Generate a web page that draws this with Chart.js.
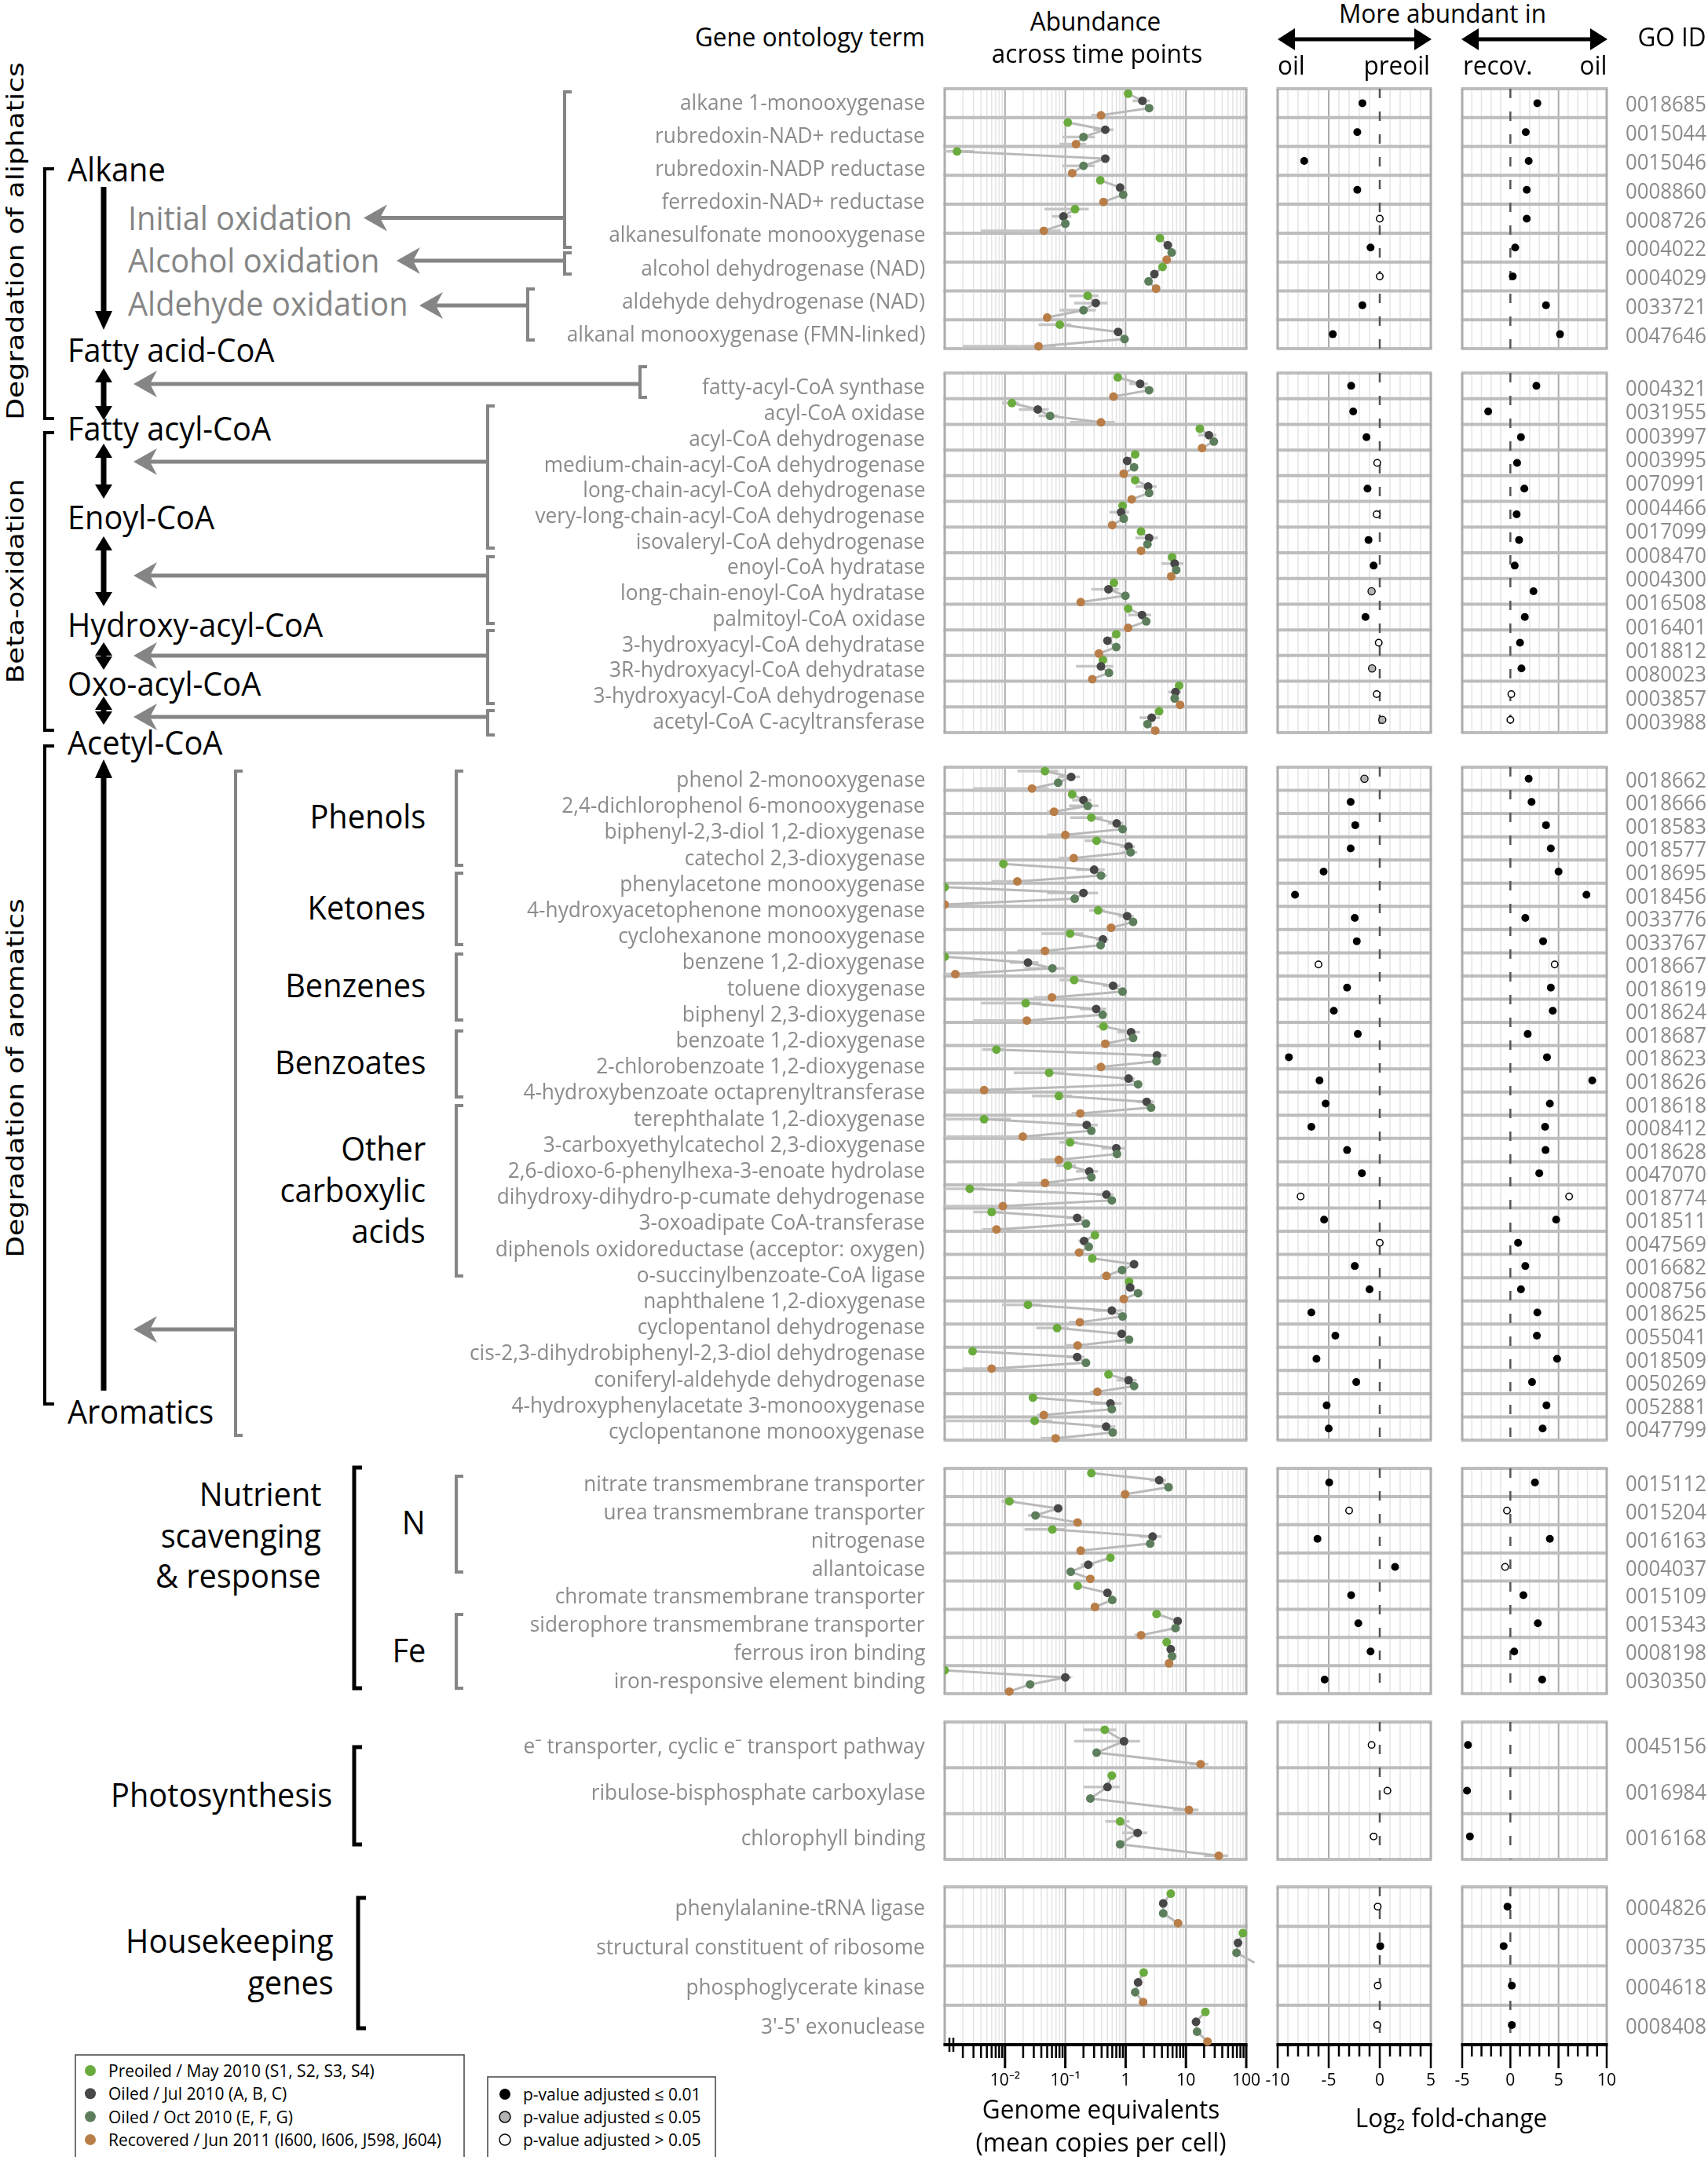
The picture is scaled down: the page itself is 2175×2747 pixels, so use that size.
<!DOCTYPE html>
<html>
<head>
<meta charset="utf-8">
<title>GO term abundance across time points</title>
<script src="https://cdn.jsdelivr.net/npm/chart.js@4.4.1/dist/chart.umd.min.js"></script>
<style>
  html, body { margin: 0; padding: 0; background: #fff; }
  #page { position: relative; width: 2175px; height: 2747px; overflow: hidden; font-family: "Open Sans", sans-serif; }
  #page canvas { position: absolute; }
  #diagram { position: absolute; left: 0; top: 0; }
  .t { position: absolute; white-space: nowrap; line-height: 1; }
  .term { font-size: 28px; color: #8b8b8b; }
  .goid { font-size: 28px; color: #8b8b8b; }
  .head { font-size: 32px; color: #000; }
  .big { font-size: 42px; color: #000; }
  .big.gray { color: #858585; }
  .vert { font-family: "DejaVu Sans", sans-serif; font-size: 31px; color: #000; }
  .leg { font-size: 21px; color: #000; }
  .axt { font-size: 32px; color: #000; }
</style>
</head>
<body>
<div id="page"><svg id="diagram" width="2175" height="2747"></svg></div>
<script>
// ---------- data ----------
const seriesNames = ["Preoiled / May 2010 (S1, S2, S3, S4)", "Oiled / Jul 2010 (A, B, C)", "Oiled / Oct 2010 (E, F, G)", "Recovered / Jun 2011 (I600, I606, J598, J604)"];
const sigNames = ["p-value adjusted \u2264 0.01", "p-value adjusted \u2264 0.05", "p-value adjusted > 0.05"];
const abundTickValues = [0.01, 0.1, 1, 10, 100];
const abundTickLabels = ["10\u207B\u00B2", "10\u207B\u00B9", "1", "10", "100"];

// degradation of aliphatics
const aliphTerms = ["alkane 1-monooxygenase", "rubredoxin-NAD+ reductase", "rubredoxin-NADP reductase", "ferredoxin-NAD+ reductase", "alkanesulfonate monooxygenase", "alcohol dehydrogenase (NAD)", "aldehyde dehydrogenase (NAD)", "alkanal monooxygenase (FMN-linked)"];
const aliphIds = ["0018685", "0015044", "0015046", "0008860", "0008726", "0004022", "0004029", "0033721", "0047646"];
const aliphPreoil = [1.1, 0.11, 0.0016, 0.38, 0.145, 3.7, 4.1, 0.235, 0.081];
const aliphOilJul = [1.9, 0.46, 0.46, 0.81, 0.093, 5.0, 3.0, 0.32, 0.75];
const aliphOilOct = [2.45, 0.2, 0.2, 0.91, 0.1, 5.8, 2.4, 0.2, 0.96];
const aliphRecov = [0.39, 0.15, 0.13, 0.43, 0.044, 4.8, 3.2, 0.05, 0.036];
const aliphSd = [[0, 0.6, 0, 0.12], [0, 0.17, 0.11, 0.07], [0.0015, 0, 0.11, 0.02], [0, 0.12, 0, 0], [0.1, 0.033, 0, 0.04], [0, 0, 0, 0], [0, 0, 0, 0], [0.12, 0.18, 0.12, 0], [0.045, 0, 0.05, 0.034]];
const aliphLfcOil = [-1.7, -2.2, -7.4, -2.2, 0, -0.9, 0, -1.7, -4.6];
const aliphSigOil = [1, 1, 1, 1, 3, 1, 3, 1, 1];
const aliphLfcRecov = [2.8, 1.6, 1.9, 1.7, 1.7, 0.5, 0.25, 3.7, 5.15];
const aliphSigRecov = [1, 1, 1, 1, 1, 1, 1, 1, 1];

// beta-oxidation
const betaTerms = ["fatty-acyl-CoA synthase", "acyl-CoA oxidase", "acyl-CoA dehydrogenase", "medium-chain-acyl-CoA dehydrogenase", "long-chain-acyl-CoA dehydrogenase", "very-long-chain-acyl-CoA dehydrogenase", "isovaleryl-CoA dehydrogenase", "enoyl-CoA hydratase", "long-chain-enoyl-CoA hydratase", "palmitoyl-CoA oxidase", "3-hydroxyacyl-CoA dehydratase", "3R-hydroxyacyl-CoA dehydratase", "3-hydroxyacyl-CoA dehydrogenase", "acetyl-CoA C-acyltransferase"];
const betaIds = ["0004321", "0031955", "0003997", "0003995", "0070991", "0004466", "0017099", "0008470", "0004300", "0016508", "0016401", "0018812", "0080023", "0003857", "0003988"];
const betaPreoil = [0.74, 0.013, 17, 1.44, 1.44, 0.89, 1.8, 5.9, 0.64, 1.1, 0.7, 0.42, 7.7, 3.6];
const betaOilJul = [1.74, 0.035, 24, 1.06, 2.36, 0.84, 2.45, 6.5, 0.52, 1.87, 0.5, 0.39, 6.7, 2.7];
const betaOilOct = [2.45, 0.056, 29, 1.38, 2.45, 0.93, 2.3, 6.9, 0.99, 2.2, 0.7, 0.53, 6.5, 2.3];
const betaRecov = [0.63, 0.39, 18.5, 0.93, 1.26, 0.6, 1.8, 5.7, 0.18, 1.1, 0.36, 0.28, 8.0, 3.1];
const betaSd = [[0, 0.6, 0, 0.1], [0.004, 0.018, 0.02, 0.27], [0, 8, 0, 0], [0, 0.17, 0, 0], [0, 0.9, 0, 0], [0, 0.3, 0, 0], [0, 1.0, 0, 0], [0, 2.6, 0, 0], [0, 0.25, 0, 0], [0, 0.77, 0, 0], [0, 0, 0, 0], [0, 0.24, 0, 0], [0, 1.6, 0, 0], [0, 1.0, 0, 0]];
const betaLfcOil = [-2.8, -2.6, -1.3, -0.25, -1.2, -0.3, -1.1, -0.6, -0.8, -1.4, -0.1, -0.75, -0.3, 0.25];
const betaSigOil = [1, 1, 1, 3, 1, 3, 1, 1, 2, 1, 3, 2, 3, 2];
const betaLfcRecov = [2.7, -2.3, 1.1, 0.7, 1.45, 0.65, 0.9, 0.45, 2.4, 1.5, 1.0, 1.15, 0.1, 0];
const betaSigRecov = [1, 1, 1, 1, 1, 1, 1, 1, 1, 1, 1, 1, 3, 3];

// degradation of aromatics
const aromTerms = ["phenol 2-monooxygenase", "2,4-dichlorophenol 6-monooxygenase", "biphenyl-2,3-diol 1,2-dioxygenase", "catechol 2,3-dioxygenase", "phenylacetone monooxygenase", "4-hydroxyacetophenone monooxygenase", "cyclohexanone monooxygenase", "benzene 1,2-dioxygenase", "toluene dioxygenase", "biphenyl 2,3-dioxygenase", "benzoate 1,2-dioxygenase", "2-chlorobenzoate 1,2-dioxygenase", "4-hydroxybenzoate octaprenyltransferase", "terephthalate 1,2-dioxygenase", "3-carboxyethylcatechol 2,3-dioxygenase", "2,6-dioxo-6-phenylhexa-3-enoate hydrolase", "dihydroxy-dihydro-p-cumate dehydrogenase", "3-oxoadipate CoA-transferase", "diphenols oxidoreductase (acceptor: oxygen)", "o-succinylbenzoate-CoA ligase", "naphthalene 1,2-dioxygenase", "cyclopentanol dehydrogenase", "cis-2,3-dihydrobiphenyl-2,3-diol dehydrogenase", "coniferyl-aldehyde dehydrogenase", "4-hydroxyphenylacetate 3-monooxygenase", "cyclopentanone monooxygenase"];
const aromIds = ["0018662", "0018666", "0018583", "0018577", "0018695", "0018456", "0033776", "0033767", "0018667", "0018619", "0018624", "0018687", "0018623", "0018626", "0018618", "0008412", "0018628", "0047070", "0018774", "0018511", "0047569", "0016682", "0008756", "0018625", "0055041", "0018509", "0050269", "0052881", "0047799"];
const aromPreoil = [0.046, 0.13, 0.27, 0.33, 0.0094, 0.001, 0.35, 0.12, 0.001, 0.14, 0.022, 0.43, 0.0072, 0.054, 0.078, 0.0045, 0.12, 0.11, 0.0026, 0.006, 0.31, 0.28, 1.14, 0.024, 0.073, 0.0029, 0.52, 0.029, 0.031];
const aromOilJul = [0.125, 0.2, 0.71, 1.12, 0.3, 0.2, 1.06, 0.42, 0.024, 0.62, 0.325, 1.23, 3.3, 1.12, 2.23, 0.226, 0.7, 0.25, 0.48, 0.157, 0.205, 1.38, 1.19, 0.59, 0.86, 0.157, 1.12, 0.56, 0.475];
const aromOilOct = [0.076, 0.235, 0.89, 1.21, 0.39, 0.143, 1.33, 0.385, 0.061, 0.89, 0.416, 1.33, 3.25, 1.61, 2.64, 0.27, 0.72, 0.27, 0.59, 0.22, 0.245, 0.875, 1.61, 0.89, 1.14, 0.22, 1.38, 0.59, 0.61];
const aromRecov = [0.028, 0.065, 0.1, 0.138, 0.016, 0.001, 0.575, 0.046, 0.0015, 0.06, 0.023, 0.46, 0.39, 0.0045, 0.177, 0.0197, 0.078, 0.046, 0.0092, 0.0072, 0.17, 0.48, 0.93, 0.174, 0.16, 0.006, 0.34, 0.044, 0.069];
const aromSd = [[0.03, 0.05, 0, 0.025], [0.02, 0.07, 0.12, 0.015], [0.15, 0.2, 0, 0.05], [0.12, 0.3, 0.35, 0.06], [0, 0.15, 0.1, 0.01], [0, 0.15, 0, 0], [0.1, 0.3, 0, 0.1], [0.08, 0.1, 0, 0.03], [0, 0.012, 0.04, 0.002], [0.06, 0.2, 0, 0.03], [0.018, 0.15, 0, 0.02], [0.1, 0.5, 0, 0.06], [0.003, 1.5, 0, 0.1], [0.04, 0.3, 0, 0.008], [0.05, 0.7, 0, 0.05], [0.008, 0.12, 0, 0.02], [0.04, 0.3, 0, 0.04], [0.04, 0.1, 0, 0.03], [0.002, 0.15, 0, 0.01], [0.003, 0.05, 0, 0.003], [0.04, 0.04, 0, 0.03], [0.03, 0, 0, 0.1], [0.1, 0.2, 0, 0.1], [0.015, 0.3, 0, 0.06], [0.04, 0, 0, 0.06], [0, 0.05, 0, 0.004], [0, 0.4, 0, 0.08], [0, 0.3, 0, 0.01], [0.03, 0.2, 0, 0.03]];
const aromLfcOil = [-1.5, -2.85, -2.4, -2.85, -5.5, -8.3, -2.45, -2.25, -6.0, -3.2, -4.5, -2.15, -8.9, -5.9, -5.3, -6.7, -3.2, -1.75, -7.75, -5.45, 0, -2.45, -1.0, -6.7, -4.35, -6.2, -2.3, -5.2, -5.0];
const aromSigOil = [2, 1, 1, 1, 1, 1, 1, 1, 3, 1, 1, 1, 1, 1, 1, 1, 1, 1, 3, 1, 3, 1, 1, 1, 1, 1, 1, 1, 1];
const aromLfcRecov = [1.9, 2.2, 3.7, 4.2, 5.0, 7.9, 1.55, 3.4, 4.6, 4.2, 4.4, 1.8, 3.8, 8.5, 4.1, 3.6, 3.65, 3.0, 6.1, 4.75, 0.8, 1.55, 1.1, 2.8, 2.75, 4.85, 2.25, 3.75, 3.35];
const aromSigRecov = [1, 1, 1, 1, 1, 1, 1, 1, 3, 1, 1, 1, 1, 1, 1, 1, 1, 1, 3, 1, 1, 1, 1, 1, 1, 1, 1, 1, 1];

// nutrient scavenging & response
const nutrTerms = ["nitrate transmembrane transporter", "urea transmembrane transporter", "nitrogenase", "allantoicase", "chromate transmembrane transporter", "siderophore transmembrane transporter", "ferrous iron binding", "iron-responsive element binding"];
const nutrIds = ["0015112", "0015204", "0016163", "0004037", "0015109", "0015343", "0008198", "0030350"];
const nutrPreoil = [0.27, 0.0118, 0.061, 0.56, 0.16, 3.26, 4.8, 0.001];
const nutrOilJul = [3.6, 0.076, 2.8, 0.24, 0.5, 7.3, 5.6, 0.1];
const nutrOilOct = [5.15, 0.032, 2.55, 0.123, 0.6, 6.7, 5.9, 0.026];
const nutrRecov = [0.98, 0.16, 0.18, 0.26, 0.31, 1.8, 5.25, 0.0118];
const nutrSd = [[0, 1.1, 0, 0], [0.003, 0.01, 0.008, 0.02], [0.04, 1.1, 0, 0], [0, 0.06, 0.02, 0], [0.02, 0, 0, 0], [0, 0, 0, 0.4], [0, 0, 0, 0], [0, 0.025, 0, 0]];
const nutrLfcOil = [-4.95, -3.0, -6.1, 1.5, -2.8, -2.1, -0.9, -5.4];
const nutrSigOil = [1, 3, 1, 1, 1, 1, 1, 1];
const nutrLfcRecov = [2.55, -0.35, 4.1, -0.55, 1.35, 2.85, 0.4, 3.3];
const nutrSigRecov = [1, 3, 1, 3, 1, 1, 1, 1];

// photosynthesis
const photoTerms = ["e\u207B transporter, cyclic e\u207B transport pathway", "ribulose-bisphosphate carboxylase", "chlorophyll binding"];
const photoIds = ["0045156", "0016984", "0016168"];
const photoPreoil = [0.45, 0.59, 0.81];
const photoOilJul = [0.94, 0.5, 1.58];
const photoOilOct = [0.33, 0.26, 0.81];
const photoRecov = [17.5, 11.2, 35];
const photoSd = [[0.25, 0.8, 0, 6], [0, 0.3, 0, 5], [0.35, 0.7, 0, 15]];
const photoLfcOil = [-0.8, 0.75, -0.6];
const photoSigOil = [3, 3, 3];
const photoLfcRecov = [-4.4, -4.5, -4.2];
const photoSigRecov = [1, 1, 1];

// housekeeping genes
const houseTerms = ["phenylalanine-tRNA ligase", "structural constituent of ribosome", "phosphoglycerate kinase", "3'-5' exonuclease"];
const houseIds = ["0004826", "0003735", "0004618", "0008408"];
const housePreoil = [5.6, 88, 1.99, 21];
const houseOilJul = [4.2, 73, 1.61, 14.7];
const houseOilOct = [4.2, 69, 1.44, 15.3];
const houseRecov = [7.4, 137, 1.95, 22.8];
const houseSd = [[0, 0, 0, 0], [0, 0, 0, 0], [0, 0, 0, 0], [0, 1.5, 1.5, 0]];
const houseLfcOil = [-0.2, 0.05, -0.2, -0.25];
const houseSigOil = [3, 1, 3, 3];
const houseLfcRecov = [-0.3, -0.7, 0.15, 0.15];
const houseSigRecov = [1, 1, 1, 1];

// ---------- layout & style ----------
const PAGE_W = 2175;
const PAD = 40;
const PADX = 90;
const AXIS_H = 80;
const SERIES_COLORS = ["#6aab3d", "#474747", "#5c7e5c", "#b97d47"];
const ROW_OFFSETS = [0.17, 0.42, 0.67, 0.92];
const SIG_STYLE = [
  { r: 5.0, fill: "#000", bw: 0 },
  { r: 4.6, fill: "#b3b3b3", bw: 1.3 },
  { r: 4.2, fill: "#fff", bw: 1.5 },
];
const COLS = { abund: [1203, 1587], oil: [1627, 1822], recov: [1862, 2046] };
const TERM_RIGHT = 1178, ID_RIGHT = 2173;

const GROUPS = [
  { top: 113, bottom: 444, pre: aliphPreoil, jul: aliphOilJul, oct: aliphOilOct, rec: aliphRecov, sd: aliphSd,
    lo: aliphLfcOil, so: aliphSigOil, lr: aliphLfcRecov, sr: aliphSigRecov, terms: aliphTerms, termPos: [128.6, 42.2], ids: aliphIds, idPos: null },
  { top: 475, bottom: 933, pre: betaPreoil, jul: betaOilJul, oct: betaOilOct, rec: betaRecov, sd: betaSd,
    lo: betaLfcOil, so: betaSigOil, lr: betaLfcRecov, sr: betaSigRecov, terms: betaTerms, termPos: null, ids: betaIds, idPos: [493, 30.36] },
  { top: 977, bottom: 1834, pre: aromPreoil, jul: aromOilJul, oct: aromOilOct, rec: aromRecov, sd: aromSd,
    lo: aromLfcOil, so: aromSigOil, lr: aromLfcRecov, sr: aromSigRecov, terms: aromTerms, termPos: [991, 33.2], ids: aromIds, idPos: null },
  { top: 1870, bottom: 2157, pre: nutrPreoil, jul: nutrOilJul, oct: nutrOilOct, rec: nutrRecov, sd: nutrSd,
    lo: nutrLfcOil, so: nutrSigOil, lr: nutrLfcRecov, sr: nutrSigRecov, terms: nutrTerms, termPos: null, ids: nutrIds, idPos: null },
  { top: 2193, bottom: 2368, pre: photoPreoil, jul: photoOilJul, oct: photoOilOct, rec: photoRecov, sd: photoSd,
    lo: photoLfcOil, so: photoSigOil, lr: photoLfcRecov, sr: photoSigRecov, terms: photoTerms, termPos: null, ids: photoIds, idPos: null },
  { top: 2403, bottom: 2604, pre: housePreoil, jul: houseOilJul, oct: houseOilOct, rec: houseRecov, sd: houseSd,
    lo: houseLfcOil, so: houseSigOil, lr: houseLfcRecov, sr: houseSigRecov, terms: houseTerms, termPos: null, ids: houseIds, idPos: null, axis: true },
];

const FIT_REF = {
  term: ["alkane 1-monooxygenase", 312],
  goid: ["0018685", 103],
  head: ["Gene ontology term", 293],
  big: ["Fatty acid-CoA", 263],
  leg: ["Preoiled / May 2010 (S1, S2, S3, S4)", 339],
  axt: ["Genome equivalents", 302],
};

const page = document.getElementById("page");
const svg = document.getElementById("diagram");
Chart.defaults.font.family = "'Open Sans', sans-serif";
Chart.defaults.color = "#000";

// ---------- chart panels ----------
function panelPlugin(kind, rows, axis, bars) {
  return {
    id: "panel",
    beforeDatasetsDraw(chart) {
      const { ctx, chartArea: a } = chart;
      const x = chart.scales.x, y = chart.scales.y;
      const vline = (v, color, w) => {
        const px = x.getPixelForValue(v);
        ctx.strokeStyle = color; ctx.lineWidth = w;
        ctx.beginPath(); ctx.moveTo(px, a.top); ctx.lineTo(px, a.bottom); ctx.stroke();
      };
      ctx.save();
      if (kind === "log") {
        for (let e = -3; e < 2; e++) for (let m = 2; m < 10; m++) vline(m * Math.pow(10, e), "#e4e4e4", 1.5);
        for (let e = -2; e < 2; e++) vline(Math.pow(10, e), "#acacac", 2);
      } else {
        for (let v = x.min + 1; v < x.max; v++) if (v % 5 !== 0) vline(v, "#e4e4e4", 1.5);
        for (let v = x.min + 5; v < x.max; v += 5) if (v !== 0) vline(v, "#acacac", 2);
      }
      ctx.strokeStyle = "#bdbdbd"; ctx.lineWidth = 4;
      for (let i = 0; i <= rows; i++) {
        const py = y.getPixelForValue(i);
        ctx.beginPath(); ctx.moveTo(a.left - 1.5, py); ctx.lineTo(a.right + 1.5, py); ctx.stroke();
      }
      vline(x.min, "#acacac", 3); vline(x.max, "#acacac", 3);
      if (kind === "lin") { ctx.setLineDash([12, 17]); vline(0, "#555", 2.5); ctx.setLineDash([]); }

      if (axis) {
        const yb = a.bottom;
        ctx.strokeStyle = "#000";
        const tick = (v, len, w) => {
          const px = x.getPixelForValue(v);
          ctx.lineWidth = w; ctx.beginPath(); ctx.moveTo(px, yb); ctx.lineTo(px, yb + len); ctx.stroke();
        };
        if (kind === "log") {
          for (let e = -3; e < 2; e++) for (let m = 2; m < 10; m++) tick(m * Math.pow(10, e), 17, 2.5);
          abundTickValues.forEach(v => tick(v, 30, 3));
        } else {
          for (let v = x.min; v <= x.max; v++) tick(v, v % 5 === 0 ? 30 : 15, 2.5);
        }
        ctx.lineWidth = 4;
        ctx.beginPath(); ctx.moveTo(a.left - 1.5, yb); ctx.lineTo(a.right + 1.5, yb); ctx.stroke();
        if (kind === "log") {
          const bx = x.getPixelForValue(x.min);
          ctx.lineWidth = 2.5;
          [6, 11].forEach(d => { ctx.beginPath(); ctx.moveTo(bx + d, yb - 9); ctx.lineTo(bx + d, yb + 9); ctx.stroke(); });
        }
      }

      if (bars) {
        ctx.beginPath(); ctx.rect(a.left, a.top, a.right - a.left, a.bottom - a.top); ctx.clip();
        ctx.strokeStyle = "#c6c6c6"; ctx.lineWidth = 3.5;
        bars.series.forEach((s, k) => s.forEach((v, i) => {
          const sd = bars.sd[i][k];
          if (!sd) return;
          const lo = Math.max(v - sd, x.min / 2);
          const py = y.getPixelForValue(i + ROW_OFFSETS[k]);
          ctx.beginPath(); ctx.moveTo(x.getPixelForValue(lo), py); ctx.lineTo(x.getPixelForValue(v + sd), py); ctx.stroke();
        }));
      }
      ctx.restore();
    },
  };
}

function makeCanvas(cols, g, extra) {
  const c = document.createElement("canvas");
  c.width = cols[1] - cols[0] + 2 * PADX;
  c.height = g.bottom - g.top + 2 * PAD + extra;
  c.style.left = (cols[0] - PADX) + "px";
  c.style.top = (g.top - PAD) + "px";
  page.appendChild(c);
  return c;
}

function xScale(kind, min, max, axis) {
  const s = { type: kind === "log" ? "logarithmic" : "linear", min, max, display: !!axis };
  if (axis) {
    s.grid = { display: false };
    s.border = { display: false };
    s.ticks = {
      autoSkip: false, maxRotation: 0, padding: 25, font: { size: 21 }, color: "#000",
      stepSize: 5,
      callback: kind === "log"
        ? (v) => { const i = abundTickValues.findIndex(t => Math.abs(t - v) / t < 1e-6); return i >= 0 ? abundTickLabels[i] : ""; }
        : (v) => String(v),
    };
    s.afterFit = (sc) => { sc.height = AXIS_H; };
  }
  return s;
}

function baseOptions(g, rows, kind, min, max) {
  return {
    responsive: false, animation: false, events: [],
    layout: { padding: { left: PADX, right: PADX, top: PAD, bottom: PAD } },
    plugins: { legend: { display: false }, tooltip: { enabled: false } },
    scales: {
      x: xScale(kind, min, max, g.axis),
      y: { type: "linear", min: 0, max: rows, reverse: true, display: false },
    },
  };
}

function abundanceChart(g) {
  const rows = g.pre.length;
  const series = [g.pre, g.jul, g.oct, g.rec];
  const clip = g.axis ? false : { left: 0, right: 0, top: 8, bottom: 8 };
  const path = [];
  for (let i = 0; i < rows; i++) {
    series.forEach((s, k) => path.push({ x: s[i], y: i + ROW_OFFSETS[k] }));
    path.push({ x: null, y: null });
  }
  const datasets = [{ data: path, showLine: true, spanGaps: false, borderColor: "#b9b9b9", borderWidth: 3, pointRadius: 0, order: 5, clip }];
  series.forEach((s, k) => datasets.push({
    data: s.map((v, i) => ({ x: v, y: i + ROW_OFFSETS[k] })),
    showLine: false, pointRadius: 5.5, pointBackgroundColor: SERIES_COLORS[k], pointBorderWidth: 0, order: 4 - k, clip,
  }));
  new Chart(makeCanvas(COLS.abund, g, g.axis ? AXIS_H : 0), {
    type: "scatter",
    data: { datasets },
    options: baseOptions(g, rows, "log", 0.001, 100),
    plugins: [panelPlugin("log", rows, g.axis, { series, sd: g.sd })],
  });
}

function foldChart(g, vals, sig, cols, min, max) {
  const rows = g.pre.length;
  const datasets = [1, 2, 3].map(level => {
    const st = SIG_STYLE[level - 1];
    return {
      data: vals.map((v, i) => (sig[i] === level ? { x: v, y: i + 0.5 } : null)).filter(Boolean),
      showLine: false, pointRadius: st.r, pointBackgroundColor: st.fill, pointBorderColor: "#000", pointBorderWidth: st.bw,
    };
  });
  new Chart(makeCanvas(cols, g, g.axis ? AXIS_H : 0), {
    type: "scatter",
    data: { datasets },
    options: baseOptions(g, rows, "lin", min, max),
    plugins: [panelPlugin("lin", rows, g.axis, null)],
  });
}

// ---------- text ----------
const textEls = [];
function text(str, x, y, cls, align, len) {
  const d = document.createElement("div");
  d.className = "t " + cls;
  d.textContent = str;
  d.style.top = y + "px";
  if (align === "right") d.style.right = (PAGE_W - x) + "px";
  else d.style.left = x + "px";
  d._align = align; d._cls = cls.split(" ")[0]; d._len = len;
  page.appendChild(d);
  textEls.push(d);
  return d;
}
function fitTexts() {
  const k = {};
  Object.keys(FIT_REF).forEach(cls => {
    const m = document.createElement("div");
    m.className = "t " + cls; m.style.visibility = "hidden"; m.textContent = FIT_REF[cls][0];
    page.appendChild(m); k[cls] = FIT_REF[cls][1] / m.offsetWidth; m.remove();
  });
  textEls.forEach(d => {
    const s = d._len ? d._len / d.offsetWidth : (k[d._cls] || 1);
    if (d._align === "right") { d.style.transformOrigin = "right center"; d.style.transform = `translateY(-50%) scaleX(${s})`; }
    else if (d._align === "left") { d.style.transformOrigin = "left center"; d.style.transform = `translateY(-50%) scaleX(${s})`; }
    else if (d._align === "center") { d.style.transform = `translate(-50%,-50%) scaleX(${s})`; }
    else if (d._align === "vert") { d.style.transform = `translate(-50%,-50%) rotate(-90deg) scaleX(${s})`; }
  });
}

// ---------- svg diagram helpers ----------
const NS = "http://www.w3.org/2000/svg";
function el(tag, attrs) {
  const e = document.createElementNS(NS, tag);
  for (const key in attrs) e.setAttribute(key, attrs[key]);
  svg.appendChild(e);
  return e;
}
function seg(x1, y1, x2, y2, stroke, w) { el("line", { x1, y1, x2, y2, stroke, "stroke-width": w }); }
function bracket(x, y1, y2, stroke, w, tick) {
  el("path", { d: `M${x + tick},${y1} H${x} V${y2} H${x + tick}`, fill: "none", stroke, "stroke-width": w });
}
function tri(pts, fill) { el("polygon", { points: pts.map(p => p.join(",")).join(" "), fill }); }
function vArrow(x, yTop, yBot, upHead, downHead, L, Wd) {
  seg(x, upHead ? yTop + L - 2 : yTop, x, downHead ? yBot - L + 2 : yBot, "#000", 7);
  if (upHead) tri([[x, yTop], [x - Wd / 2, yTop + L], [x + Wd / 2, yTop + L]], "#000");
  if (downHead) tri([[x, yBot], [x - Wd / 2, yBot - L], [x + Wd / 2, yBot - L]], "#000");
}
function hDouble(x1, x2, y) {
  const L = 22, Wd = 28;
  seg(x1 + L - 2, y, x2 - L + 2, y, "#000", 5);
  tri([[x1, y], [x1 + L, y - Wd / 2], [x1 + L, y + Wd / 2]], "#000");
  tri([[x2, y], [x2 - L, y - Wd / 2], [x2 - L, y + Wd / 2]], "#000");
}
function gArrow(xFrom, xTip, y) {
  seg(xFrom, y, xTip + 16, y, "#858585", 5);
  tri([[xTip, y], [xTip + 30, y - 17], [xTip + 21, y], [xTip + 30, y + 17]], "#858585");
}

// ---------- build ----------
GROUPS.forEach(g => {
  const rows = g.pre.length;
  const rowH = (g.bottom - g.top) / rows;
  abundanceChart(g);
  foldChart(g, g.lo, g.so, COLS.oil, -10, 5);
  foldChart(g, g.lr, g.sr, COLS.recov, -5, 10);
  g.terms.forEach((s, i) => text(s, TERM_RIGHT, g.termPos ? g.termPos[0] + i * g.termPos[1] : g.top + rowH * (i + 0.5), "term", "right"));
  g.ids.forEach((s, i) => text(s, ID_RIGHT, g.idPos ? g.idPos[0] + i * g.idPos[1] : g.top + rowH * (i + 0.5), "goid", "right"));
});

// headers
text("Gene ontology term", 1178, 47, "head", "right");
text("Abundance", 1395, 27, "head", "center");
text("across time points", 1397, 68, "head", "center");
text("More abundant in", 1837, 17, "head", "center");
text("oil", 1627, 83, "head", "left");
text("preoil", 1821, 83, "head", "right");
text("recov.", 1863, 83, "head", "left");
text("oil", 2046, 83, "head", "right");
text("GO ID", 2173, 47, "head", "right");
hDouble(1627, 1823, 50);
hDouble(1861, 2047, 50);

// axis titles
text("Genome equivalents", 1402, 2686, "axt", "center");
text("(mean copies per cell)", 1402, 2728, "axt", "center");
text("Log\u2082 fold-change", 1848, 2697, "axt", "center");

// left pathway diagram
text("Degradation of aliphatics", 19, 307, "vert", "vert", 456);
text("Beta-oxidation", 19, 740, "vert", "vert", 260);
text("Degradation of aromatics", 19, 1373, "vert", "vert", 457);
bracket(57, 215, 533, "#000", 4, 12);
bracket(57, 551, 930, "#000", 4, 12);
bracket(57, 950, 1788, "#000", 4, 12);

[["Alkane", 215], ["Fatty acid-CoA", 445], ["Fatty acyl-CoA", 545], ["Enoyl-CoA", 658], ["Hydroxy-acyl-CoA", 795], ["Oxo-acyl-CoA", 870], ["Acetyl-CoA", 945], ["Aromatics", 1797]]
  .forEach(([s, y]) => text(s, 86, y, "big", "left"));
[["Initial oxidation", 277], ["Alcohol oxidation", 331], ["Aldehyde oxidation", 386]]
  .forEach(([s, y]) => text(s, 163, y, "big gray", "left"));

vArrow(132, 238, 420, false, true, 24, 22);
vArrow(132, 469, 535, true, true, 18, 22);
vArrow(132, 565, 635, true, true, 18, 22);
vArrow(132, 683, 772, true, true, 18, 22);
vArrow(132, 818, 853, true, true, 17, 22);
vArrow(132, 887, 923, true, true, 17, 22);
vArrow(132, 967, 1771, true, false, 24, 22);

bracket(719, 117, 315, "#858585", 4, 9);
bracket(719, 322, 349, "#858585", 4, 9);
bracket(672, 368, 433, "#858585", 4, 9);
bracket(815, 467, 506, "#858585", 4, 9);
bracket(621, 517, 698, "#858585", 4, 9);
bracket(621, 709, 794, "#858585", 4, 9);
bracket(621, 803, 896, "#858585", 4, 9);
bracket(621, 905, 936, "#858585", 4, 9);
gArrow(719, 463, 277.5);
gArrow(719, 505, 332);
gArrow(672, 534, 389);
gArrow(815, 170, 489);
gArrow(621, 170, 588);
gArrow(621, 170, 733);
gArrow(621, 170, 835);
gArrow(621, 170, 913);

bracket(300, 982, 1828, "#858585", 4, 9);
gArrow(300, 170, 1693);
[[982, 1102], [1112, 1203], [1215, 1299], [1313, 1397], [1408, 1625], [1880, 2002], [2056, 2150]]
  .forEach(([a, b]) => bracket(581, a, b, "#858585", 4, 9));
[["Phenols", 1039], ["Ketones", 1155], ["Benzenes", 1254], ["Benzoates", 1352], ["Other", 1462], ["carboxylic", 1515], ["acids", 1567], ["N", 1938], ["Fe", 2101]]
  .forEach(([s, y]) => text(s, 542, y, "big", "right"));

[["Nutrient", 1902], ["scavenging", 1955], ["& response", 2006]].forEach(([s, y]) => text(s, 409, y, "big", "right"));
text("Photosynthesis", 423, 2285, "big", "right");
text("Housekeeping", 425, 2471, "big", "right");
text("genes", 425, 2524, "big", "right");
bracket(451, 1869, 2150, "#000", 5, 10);
bracket(451, 2225, 2349, "#000", 5, 10);
bracket(456, 2417, 2583, "#000", 5, 10);

// legends
el("rect", { x: 96, y: 2617, width: 495, height: 140, fill: "none", stroke: "#444", "stroke-width": 1.5 });
seriesNames.forEach((s, i) => {
  const y = 2637 + i * 29.3;
  el("circle", { cx: 115, cy: y, r: 7, fill: SERIES_COLORS[i] });
  text(s, 138, y, "leg", "left");
});
el("rect", { x: 621, y: 2645, width: 290, height: 120, fill: "none", stroke: "#444", "stroke-width": 1.5 });
sigNames.forEach((s, i) => {
  const y = 2667 + i * 29;
  const st = SIG_STYLE[i];
  el("circle", { cx: 643, cy: y, r: 7, fill: st.fill, stroke: "#000", "stroke-width": i === 0 ? 0 : 1.5 });
  text(s, 666, y, "leg", "left");
});

fitTexts();
if (document.fonts && document.fonts.ready) document.fonts.ready.then(fitTexts);
</script>
</body>
</html>
